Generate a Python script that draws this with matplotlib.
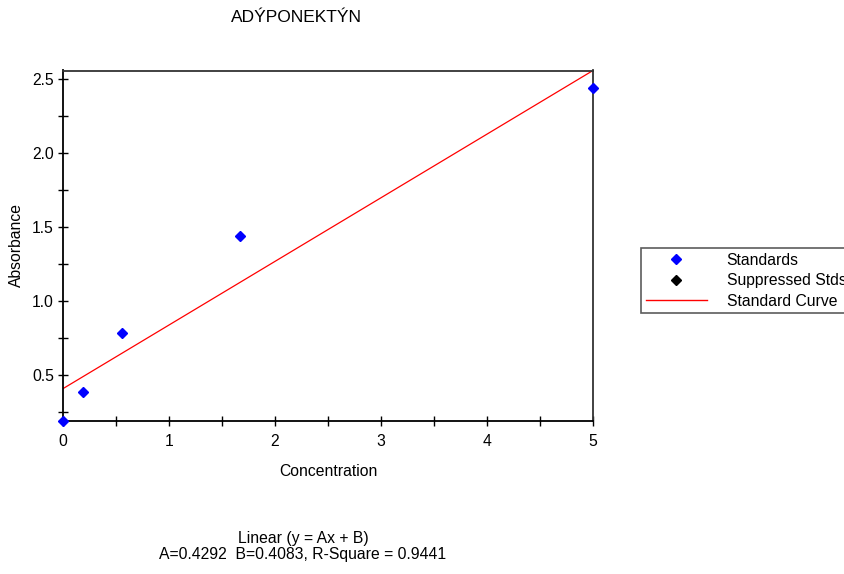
import matplotlib
matplotlib.use("Agg")
import matplotlib.pyplot as plt
import numpy as np
from matplotlib.lines import Line2D
from matplotlib.ticker import MultipleLocator

plt.rcParams['font.family'] = ['Liberation Sans', 'DejaVu Sans']

concentration = [0.0, 0.185, 0.556, 1.667, 5.0]
absorbance = [0.19, 0.386, 0.783, 1.435, 2.438]
coef_A = 0.4292
coef_B = 0.4083
r_square = 0.9441

title = "ADÝPONEKTÝN"
x_label = "Concentration"
y_label = "Absorbance"
legend_labels = ["Standards", "Suppressed Stds", "Standard Curve"]

FS = 11.3

fig = plt.figure(figsize=(8.45, 5.74), dpi=100)
ax = fig.add_axes([63/845, 1-421/574, (593-63)/845, (421-70.5)/574])

xs = np.linspace(0, 5, 100)
ax.plot(xs, coef_A*xs + coef_B, color='red', lw=0.9, zorder=2)
ax.plot(concentration, absorbance, linestyle='none', marker='D', ms=5.5,
        color='#0000ff', zorder=3, clip_on=False)

ax.set_xlim(0, 5)
ax.set_ylim(0.19, coef_A*5 + coef_B)
ax.xaxis.set_major_locator(MultipleLocator(1))
ax.xaxis.set_minor_locator(MultipleLocator(0.5))
ax.yaxis.set_major_locator(MultipleLocator(0.5))
ax.yaxis.set_minor_locator(MultipleLocator(0.25))
ax.set_yticks([0.5, 1.0, 1.5, 2.0, 2.5])
ax.set_yticklabels(["0.5", "1.0", "1.5", "2.0", "2.5"])
ax.tick_params(which='both', direction='inout', length=7, width=1, labelsize=FS, color='black')
ax.tick_params(axis='x', pad=6)
ax.tick_params(axis='y', pad=3)
for s in ['left', 'bottom']:
    ax.spines[s].set_color('black')
    ax.spines[s].set_linewidth(1.3)
for s in ['top', 'right']:
    ax.spines[s].set_color('#333333')
    ax.spines[s].set_linewidth(1.3)

fig.text(296/845, 1-17/574, title, ha='center', va='center', fontsize=12.5)
fig.text(328/845, 1-471/574, x_label, ha='center', va='center', fontsize=FS)
fig.text(16/845, 1-245/574, y_label, ha='center', va='center', fontsize=FS, rotation=90)

fig.text(303/845, 1-538/574, "Linear (y = Ax + B)", ha='center', va='center', fontsize=FS)
fig.text(303/845, 1-555/574,
         f"A={coef_A:.4f}  B={coef_B:.4f}, R-Square = {r_square:.4f}",
         ha='center', va='center', fontsize=FS)

handles = [
    Line2D([], [], linestyle='none', marker='D', ms=5, color='#0000ff'),
    Line2D([], [], linestyle='none', marker='D', ms=5, color='black'),
    Line2D([], [], color='red', lw=1),
]
leg = fig.legend(handles, legend_labels, loc='upper left',
                 bbox_to_anchor=(641/845, 1-248/574), bbox_transform=fig.transFigure,
                 frameon=True, fancybox=False, fontsize=FS, borderpad=0.3,
                 labelspacing=0.35, handlelength=3.9, handletextpad=1.25,
                 borderaxespad=0)
leg.get_frame().set_edgecolor('#333333')
leg.get_frame().set_linewidth(1.2)

fig.savefig("out.png", dpi=100)
